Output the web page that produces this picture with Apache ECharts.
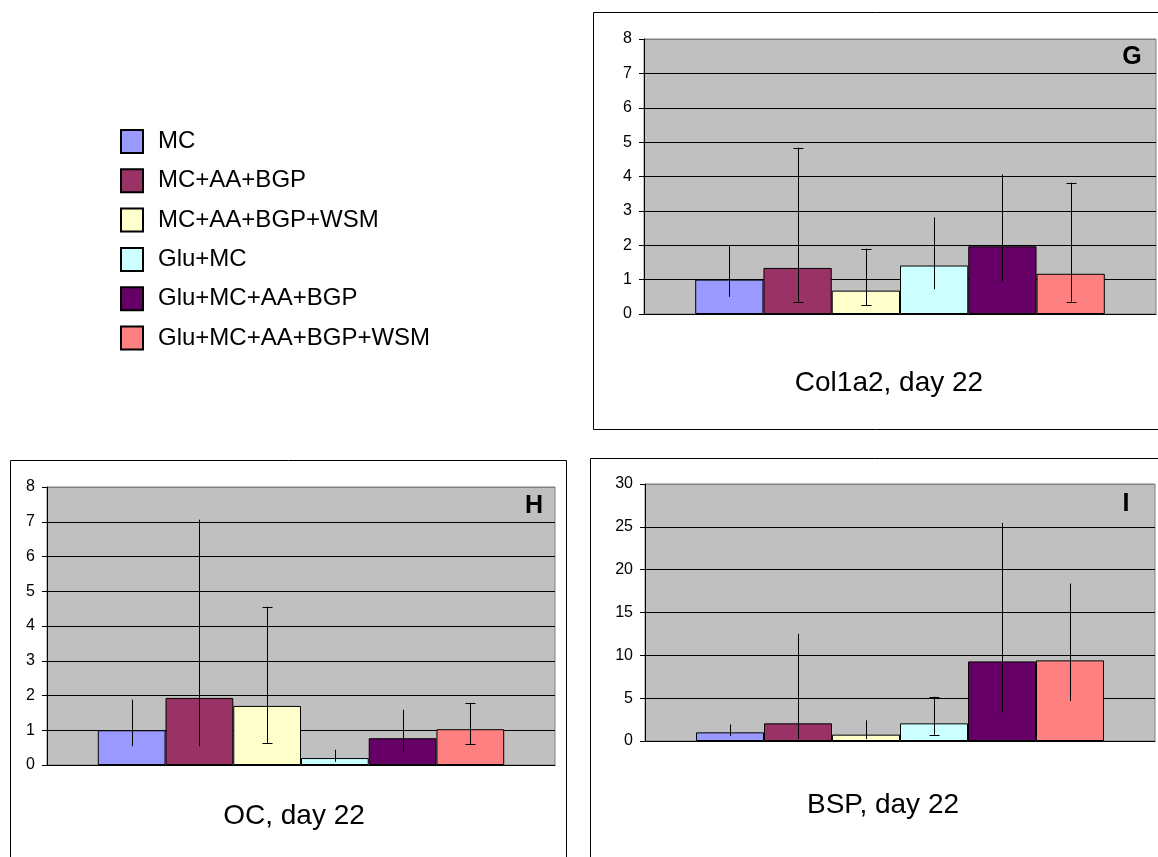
<!DOCTYPE html>
<html>
<head>
<meta charset="utf-8">
<script src="https://cdn.jsdelivr.net/npm/echarts@6/dist/echarts.min.js"></script>
<style>
html,body{margin:0;padding:0;background:#fff;}
#chart{width:1158px;height:857px;}
</style>
</head>
<body>
<div id="chart"></div>
<script>
// ---- data ----
const categories = ['MC', 'MC+AA+BGP', 'MC+AA+BGP+WSM', 'Glu+MC', 'Glu+MC+AA+BGP', 'Glu+MC+AA+BGP+WSM'];

const col1a2Mean = [1.00, 1.34, 0.68, 1.41, 1.97, 1.17];
const col1a2Low  = [0.50, 0.36, 0.25, 0.72, 0.94, 0.36];
const col1a2High = [1.99, 4.84, 1.90, 2.81, 4.06, 3.82];

const ocMean = [1.00, 1.93, 1.70, 0.20, 0.77, 1.03];
const ocLow  = [0.54, 0.54, 0.63, 0.09, 0.36, 0.59];
const ocHigh = [1.88, 7.06, 4.56, 0.44, 1.59, 1.78];

const bspMean = [1.01, 2.06, 0.74, 2.06, 9.29, 9.41];
const bspLow  = [0.58, 0.23, 0.23, 0.74, 3.38, 4.66];
const bspHigh = [1.94, 12.5, 2.41, 5.17, 25.46, 18.38];

const panelTitles = ['Col1a2, day 22', 'OC, day 22', 'BSP, day 22'];
const panelLetters = ['G', 'H', 'I'];
const yMax = [8, 8, 30];
const yInterval = [1, 1, 5];

// ---- styles / layout ----
const colors = ['#9999FF', '#993366', '#FFFFCC', '#CCFFFF', '#660066', '#FF8080'];
const FONT = "'Liberation Sans', Arial, sans-serif";
const panels = [
  { mean: col1a2Mean, low: col1a2Low, high: col1a2High,
    grid: { left: 644, top: 39, width: 512, height: 275 },
    box: [593, 12, 700, 417], title: [889, 383], letter: [1132, 57],
    caps: [false, true, true, false, false, true] },
  { mean: ocMean, low: ocLow, high: ocHigh,
    grid: { left: 47, top: 487, width: 508, height: 278 },
    box: [10, 460, 556, 500], title: [294, 816], letter: [534, 506],
    caps: [false, false, true, false, false, true] },
  { mean: bspMean, low: bspLow, high: bspHigh,
    grid: { left: 645, top: 484, width: 510, height: 257 },
    box: [590, 458, 700, 500], title: [883, 805], letter: [1126, 504],
    caps: [false, false, false, true, false, false] }
];

const grids = [], xAxes = [], yAxes = [], series = [], graphics = [];

panels.forEach((p, pi) => {
  grids.push(Object.assign({
    show: true, backgroundColor: '#C0C0C0', borderColor: '#808080', borderWidth: 1
  }, p.grid));
  xAxes.push({
    type: 'category', gridIndex: pi, data: [panelTitles[pi]],
    axisLabel: { show: false }, axisTick: { show: false },
    axisLine: { show: true, lineStyle: { color: '#000', width: 1 } }
  });
  const nLines = yMax[pi] / yInterval[pi] + 1;
  const splitColors = [];
  for (let k = 0; k < nLines; k++) splitColors.push(k === nLines - 1 ? '#808080' : '#000');
  yAxes.push({
    type: 'value', gridIndex: pi, min: 0, max: yMax[pi], interval: yInterval[pi],
    axisLine: { show: true, lineStyle: { color: '#000', width: 1 } },
    axisTick: { show: true, inside: false, length: 5, lineStyle: { color: '#000' } },
    axisLabel: { color: '#000', fontSize: 16, fontFamily: FONT, margin: 12 },
    splitLine: { show: true, lineStyle: { color: splitColors, width: 1 } }
  });
  categories.forEach((name, i) => {
    series.push({
      name: name, type: 'bar', xAxisIndex: pi, yAxisIndex: pi,
      data: [p.mean[i]], barGap: 0, barCategoryGap: '20%',
      itemStyle: { color: colors[i], borderColor: '#000', borderWidth: 1 },
      emphasis: { disabled: true }, animation: false
    });
  });
  const caps = p.caps;
  series.push({
    name: 'err' + pi, type: 'custom', xAxisIndex: pi, yAxisIndex: pi,
    data: categories.map((c, i) => [0, p.low[i], p.high[i], i]),
    encode: { x: 0, y: [1, 2] }, z: 10, animation: false, silent: true,
    renderItem: function (params, api) {
      const band = api.size([1, 0])[0];
      const bw = band * 0.8 / 6;
      const idx = api.value(3);
      const xc = Math.round(api.coord([0, 0])[0] + (idx - 2.5) * bw) + 0.5;
      const yLo = api.coord([0, api.value(1)])[1];
      const yHi = api.coord([0, api.value(2)])[1];
      const st = { stroke: '#000', lineWidth: 1 };
      const ch = [{ type: 'line', shape: { x1: xc, y1: yLo, x2: xc, y2: yHi }, style: st }];
      if (caps[idx]) {
        ch.push({ type: 'line', shape: { x1: xc - 5, y1: Math.round(yLo) + 0.5, x2: xc + 5, y2: Math.round(yLo) + 0.5 }, style: st });
        ch.push({ type: 'line', shape: { x1: xc - 5, y1: Math.round(yHi) + 0.5, x2: xc + 5, y2: Math.round(yHi) + 0.5 }, style: st });
      }
      return { type: 'group', children: ch };
    }
  });
  graphics.push({
    type: 'rect', z: -10, silent: true,
    shape: { x: p.box[0] + 0.5, y: p.box[1] + 0.5, width: p.box[2], height: p.box[3] },
    style: { fill: 'none', stroke: '#000', lineWidth: 1 }
  });
  graphics.push({
    type: 'text', x: p.title[0], y: p.title[1], z: 20,
    style: { text: panelTitles[pi], font: '28px ' + FONT, fill: '#000', textAlign: 'center', textVerticalAlign: 'middle' }
  });
  graphics.push({
    type: 'text', x: p.letter[0], y: p.letter[1], z: 20,
    style: { text: panelLetters[pi], font: 'bold 25px ' + FONT, fill: '#000', textAlign: 'center', textVerticalAlign: 'middle' }
  });
});

const chart = echarts.init(document.getElementById('chart'), null, { renderer: 'canvas' });
chart.setOption({
  animation: false,
  backgroundColor: '#fff',
  textStyle: { fontFamily: FONT },
  grid: grids, xAxis: xAxes, yAxis: yAxes,
  legend: {
    data: categories, orient: 'vertical', left: 120, top: 129, padding: 0,
    itemWidth: 22, itemHeight: 23, itemGap: 14.3, icon: 'rect', selectedMode: false,
    textStyle: { fontSize: 24, lineHeight: 23, color: '#000', fontFamily: FONT, padding: [0, 0, 0, 10] }
  },
  graphic: graphics,
  series: series
});
</script>
</body>
</html>
